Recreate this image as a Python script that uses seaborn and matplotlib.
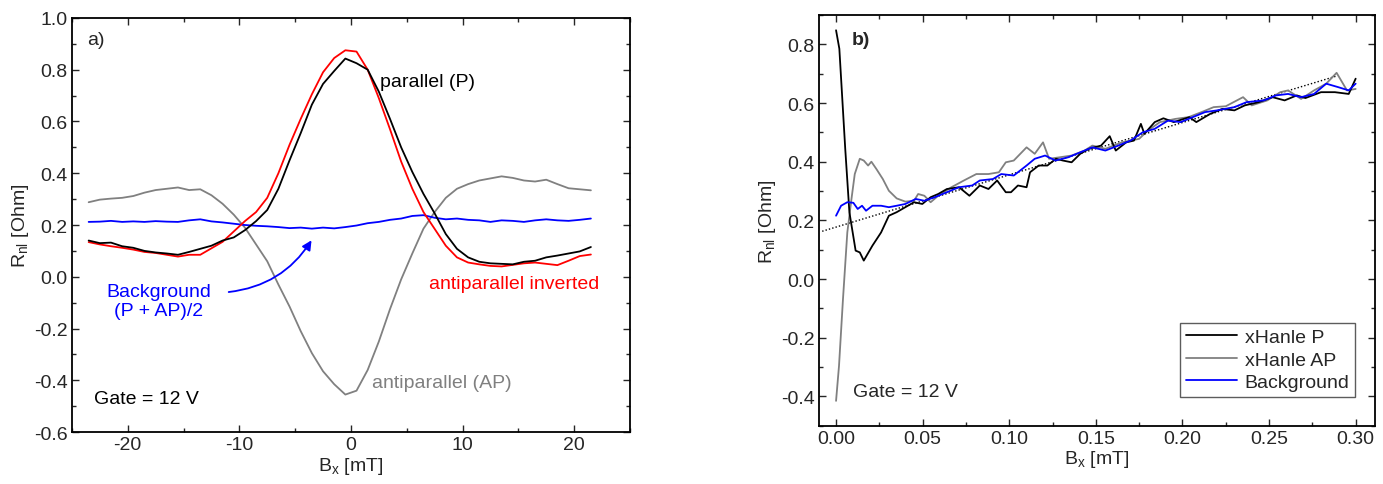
"""Nonlocal resistance vs B_x: Hanle curves (a) and xHanle background (b)."""

import matplotlib
matplotlib.use("Agg")
import matplotlib.pyplot as plt
import pandas as pd
import seaborn as sns
from matplotlib.ticker import MultipleLocator

# ---- panel a: Hanle curves ----
bx_a = [-23.5, -22.5, -21.5, -20.5, -19.5, -18.5, -17.5, -16.5, -15.5, -14.5,
        -13.5, -12.5, -11.5, -10.5, -9.5, -8.5, -7.5, -6.5, -5.5, -4.5,
        -3.5, -2.5, -1.5, -0.5, 0.5, 1.5, 2.5, 3.5, 4.5, 5.5,
        6.5, 7.5, 8.5, 9.5, 10.5, 11.5, 12.5, 13.5, 14.5, 15.5,
        16.5, 17.5, 18.5, 19.5, 20.5, 21.5]
parallel = [0.140, 0.130, 0.132, 0.118, 0.112, 0.100, 0.094, 0.090, 0.085, 0.096,
            0.108, 0.120, 0.140, 0.152, 0.180, 0.215, 0.258, 0.340, 0.450, 0.555,
            0.665, 0.745, 0.795, 0.843, 0.825, 0.800, 0.715, 0.610, 0.500, 0.405,
            0.320, 0.245, 0.165, 0.108, 0.075, 0.058, 0.052, 0.050, 0.048, 0.058,
            0.062, 0.075, 0.082, 0.090, 0.098, 0.115]
ap_inverted = [0.134, 0.125, 0.118, 0.112, 0.105, 0.096, 0.092, 0.085, 0.078, 0.085,
               0.085, 0.110, 0.135, 0.175, 0.215, 0.250, 0.305, 0.400, 0.510, 0.610,
               0.705, 0.790, 0.845, 0.875, 0.870, 0.800, 0.690, 0.570, 0.445, 0.340,
               0.250, 0.185, 0.120, 0.075, 0.055, 0.048, 0.042, 0.040, 0.046, 0.052,
               0.055, 0.050, 0.045, 0.062, 0.080, 0.086]
antiparallel = [0.288, 0.298, 0.302, 0.305, 0.312, 0.325, 0.335, 0.340, 0.345, 0.335,
                0.338, 0.315, 0.282, 0.240, 0.190, 0.125, 0.060, -0.030, -0.115, -0.210,
                -0.295, -0.365, -0.415, -0.455, -0.440, -0.360, -0.250, -0.125, -0.010, 0.090,
                0.186, 0.250, 0.305, 0.340, 0.358, 0.372, 0.380, 0.388, 0.382, 0.372,
                0.368, 0.375, 0.358, 0.342, 0.338, 0.334]
background_a = [0.212, 0.213, 0.216, 0.212, 0.214, 0.212, 0.215, 0.213, 0.212, 0.218,
                0.222, 0.214, 0.210, 0.205, 0.200, 0.197, 0.195, 0.192, 0.188, 0.190,
                0.186, 0.190, 0.187, 0.192, 0.198, 0.207, 0.212, 0.220, 0.225, 0.235,
                0.238, 0.228, 0.222, 0.225, 0.220, 0.218, 0.212, 0.218, 0.216, 0.212,
                0.218, 0.222, 0.218, 0.216, 0.220, 0.225]

# ---- panel b: xHanle ----
bx_p = [0.0, 0.0019, 0.0053, 0.0077, 0.0113, 0.0137, 0.016, 0.021, 0.026, 0.0305,
        0.035, 0.040, 0.045, 0.0498, 0.0546, 0.059, 0.064, 0.071, 0.077, 0.083,
        0.088, 0.093, 0.098, 0.101, 0.105, 0.110, 0.112, 0.117, 0.122, 0.127,
        0.131, 0.136, 0.141, 0.146, 0.153, 0.158, 0.1615, 0.1675, 0.172, 0.176,
        0.178, 0.184, 0.189, 0.195, 0.204, 0.208, 0.216, 0.223, 0.230, 0.236,
        0.244, 0.252, 0.259, 0.266, 0.271, 0.280, 0.288, 0.296, 0.300]
xhanle_p = [0.848, 0.785, 0.444, 0.228, 0.097, 0.091, 0.063, 0.114, 0.159, 0.216,
            0.228, 0.245, 0.262, 0.256, 0.279, 0.290, 0.307, 0.313, 0.284, 0.319,
            0.307, 0.336, 0.296, 0.296, 0.319, 0.313, 0.364, 0.387, 0.387, 0.410,
            0.404, 0.398, 0.427, 0.444, 0.455, 0.487, 0.438, 0.466, 0.472, 0.529,
            0.495, 0.535, 0.548, 0.535, 0.552, 0.535, 0.563, 0.580, 0.575, 0.592,
            0.603, 0.620, 0.609, 0.626, 0.617, 0.637, 0.637, 0.631, 0.683]

bx_ap = [0.0, 0.0017, 0.004, 0.0065, 0.0089, 0.0108, 0.0137, 0.016, 0.0185, 0.0204,
         0.0233, 0.027, 0.0305, 0.035, 0.040, 0.045, 0.0474, 0.051, 0.0546, 0.059,
         0.0666, 0.0738, 0.081, 0.088, 0.094, 0.098, 0.1026, 0.110, 0.1147, 0.1195,
         0.123, 0.129, 0.136, 0.1435, 0.148, 0.1555, 0.165, 0.175, 0.180, 0.187,
         0.196, 0.2036, 0.211, 0.218, 0.225, 0.235, 0.240, 0.249, 0.2565, 0.261,
         0.2685, 0.276, 0.283, 0.289, 0.295, 0.300]
xhanle_ap = [-0.415, -0.296, -0.068, 0.159, 0.273, 0.358, 0.410, 0.404, 0.387, 0.400,
             0.375, 0.341, 0.301, 0.275, 0.264, 0.267, 0.290, 0.284, 0.262, 0.284,
             0.313, 0.336, 0.358, 0.358, 0.364, 0.398, 0.404, 0.449, 0.427, 0.466,
             0.410, 0.415, 0.421, 0.438, 0.455, 0.444, 0.466, 0.478, 0.506, 0.535,
             0.546, 0.552, 0.569, 0.586, 0.589, 0.620, 0.592, 0.609, 0.637, 0.643,
             0.614, 0.643, 0.666, 0.703, 0.643, 0.648]

bx_bg = [0.0, 0.0029, 0.0065, 0.010, 0.0125, 0.015, 0.0173, 0.021, 0.026, 0.0305,
         0.035, 0.040, 0.046, 0.051, 0.057, 0.064, 0.071, 0.0786, 0.083, 0.0906,
         0.0954, 0.1026, 0.110, 0.1147, 0.1207, 0.1267, 0.134, 0.141, 0.148, 0.1555,
         0.163, 0.170, 0.177, 0.184, 0.1916, 0.199, 0.206, 0.213, 0.220, 0.230,
         0.237, 0.247, 0.254, 0.261, 0.2685, 0.276, 0.283, 0.290, 0.296, 0.300]
background_b = [0.216, 0.250, 0.262, 0.260, 0.239, 0.250, 0.233, 0.250, 0.250, 0.245,
                0.250, 0.256, 0.273, 0.267, 0.279, 0.296, 0.313, 0.319, 0.336, 0.341,
                0.358, 0.353, 0.387, 0.410, 0.421, 0.404, 0.415, 0.432, 0.449, 0.438,
                0.455, 0.472, 0.500, 0.512, 0.540, 0.535, 0.552, 0.569, 0.575, 0.586,
                0.603, 0.609, 0.626, 0.631, 0.620, 0.631, 0.666, 0.654, 0.643, 0.666]

# linear fit (dotted)
fit_x = [-0.008, 0.289]
fit_y = [0.163, 0.692]

GRAY = "#808080"
BLUE = "#0000ff"
RED = "#ff0000"
FS = 14


def style_axes(ax):
    for sp in ax.spines.values():
        sp.set_linewidth(1.3)
        sp.set_color("black")
    ax.tick_params(which="both", direction="in", top=True, right=True,
                   labelsize=FS, width=1.0, pad=3)
    ax.tick_params(which="major", length=5)
    ax.tick_params(which="minor", length=3)


sns.set_style("ticks")
plt.rcParams["font.family"] = ["Liberation Sans", "DejaVu Sans"]
plt.rcParams["mathtext.default"] = "regular"
plt.rcParams["axes.unicode_minus"] = False

fig = plt.figure(figsize=(13.83, 4.85), dpi=100)
ax_a = fig.add_axes([0.052, 0.107, 0.4035, 0.854])
ax_b = fig.add_axes([0.592, 0.12, 0.402, 0.847])

# panel a
df_a = pd.DataFrame({"bx": bx_a, "P": parallel, "APinv": ap_inverted,
                     "AP": antiparallel, "bg": background_a})
lw = 1.3
sns.lineplot(data=df_a, x="bx", y="AP", color=GRAY, lw=lw, ax=ax_a)
sns.lineplot(data=df_a, x="bx", y="bg", color=BLUE, lw=lw, ax=ax_a)
sns.lineplot(data=df_a, x="bx", y="APinv", color=RED, lw=lw, ax=ax_a)
sns.lineplot(data=df_a, x="bx", y="P", color="black", lw=lw, ax=ax_a)

ax_a.set_xlim(-25, 25)
ax_a.set_ylim(-0.6, 1.0)
ax_a.xaxis.set_major_locator(MultipleLocator(10))
ax_a.xaxis.set_minor_locator(MultipleLocator(5))
ax_a.yaxis.set_major_locator(MultipleLocator(0.2))
ax_a.yaxis.set_minor_locator(MultipleLocator(0.1))
ax_a.yaxis.set_major_formatter(plt.FuncFormatter(lambda v, _: f"{v:.1f}"))
style_axes(ax_a)
ax_a.set_xlabel("$B_x$ [mT]", fontsize=FS, labelpad=1)
ax_a.set_ylabel("$R_{nl}$ [Ohm]", fontsize=FS, labelpad=2)

ax_a.text(0.027, 0.947, "a)", transform=ax_a.transAxes, fontsize=FS,
          va="center", ha="left")
ax_a.text(2.6, 0.755, "parallel (P)", fontsize=FS, va="center", color="black")
ax_a.text(7.0, -0.025, "antiparallel inverted", fontsize=FS, va="center", color=RED)
ax_a.text(1.9, -0.407, "antiparallel (AP)", fontsize=FS, va="center", color=GRAY)
ax_a.text(-17.2, -0.095, "Background\n(P + AP)/2", fontsize=FS, va="center",
          ha="center", color=BLUE, linespacing=1.15)
ax_a.text(-23.0, -0.469, "Gate = 12 V", fontsize=FS, va="center", color="black")
ax_a.annotate("", xy=(-3.4, 0.15), xytext=(-11.2, -0.06),
              arrowprops=dict(arrowstyle="-|>", color=BLUE, lw=1.3,
                              connectionstyle="arc3,rad=0.25",
                              mutation_scale=14))

# panel b
df_p = pd.DataFrame({"bx": bx_p, "R": xhanle_p})
df_ap = pd.DataFrame({"bx": bx_ap, "R": xhanle_ap})
df_bg = pd.DataFrame({"bx": bx_bg, "R": background_b})
df_fit = pd.DataFrame({"bx": fit_x, "R": fit_y})

sns.lineplot(data=df_fit, x="bx", y="R", color="black", lw=1.0,
             linestyle=(0, (1, 1.5)), ax=ax_b, legend=False)
sns.lineplot(data=df_ap, x="bx", y="R", color=GRAY, lw=lw, ax=ax_b,
             label="xHanle AP")
sns.lineplot(data=df_p, x="bx", y="R", color="black", lw=lw, ax=ax_b,
             label="xHanle P")
sns.lineplot(data=df_bg, x="bx", y="R", color=BLUE, lw=lw, ax=ax_b,
             label="Background")

ax_b.set_xlim(-0.01, 0.311)
ax_b.set_ylim(-0.5, 0.9)
ax_b.xaxis.set_major_locator(MultipleLocator(0.05))
ax_b.xaxis.set_minor_locator(MultipleLocator(0.025))
ax_b.yaxis.set_major_locator(MultipleLocator(0.2))
ax_b.yaxis.set_minor_locator(MultipleLocator(0.1))
ax_b.xaxis.set_major_formatter(plt.FuncFormatter(lambda v, _: f"{v:.2f}"))
ax_b.yaxis.set_major_formatter(plt.FuncFormatter(lambda v, _: f"{v:.1f}"))
style_axes(ax_b)
ax_b.set_xlabel("$B_x$ [mT]", fontsize=FS, labelpad=1)
ax_b.set_ylabel("$R_{nl}$ [Ohm]", fontsize=FS, labelpad=2)

ax_b.text(0.06, 0.94, "b)", transform=ax_b.transAxes, fontsize=FS,
          fontweight="bold", va="center", ha="left")
ax_b.text(0.061, 0.083, "Gate = 12 V", transform=ax_b.transAxes, fontsize=FS,
          va="center", ha="left")

handles, labels = ax_b.get_legend_handles_labels()
order = [labels.index(k) for k in ["xHanle P", "xHanle AP", "Background"]]
leg = ax_b.legend([handles[i] for i in order], [labels[i] for i in order],
                  loc="lower right", bbox_to_anchor=(0.965, 0.07),
                  fontsize=FS, frameon=True, fancybox=False, handlelength=2.6,
                  borderpad=0.3, labelspacing=0.25, handletextpad=0.4,
                  borderaxespad=0)
leg.get_frame().set_edgecolor("#333333")
leg.get_frame().set_linewidth(1.0)

fig.savefig("out.png", dpi=100)
